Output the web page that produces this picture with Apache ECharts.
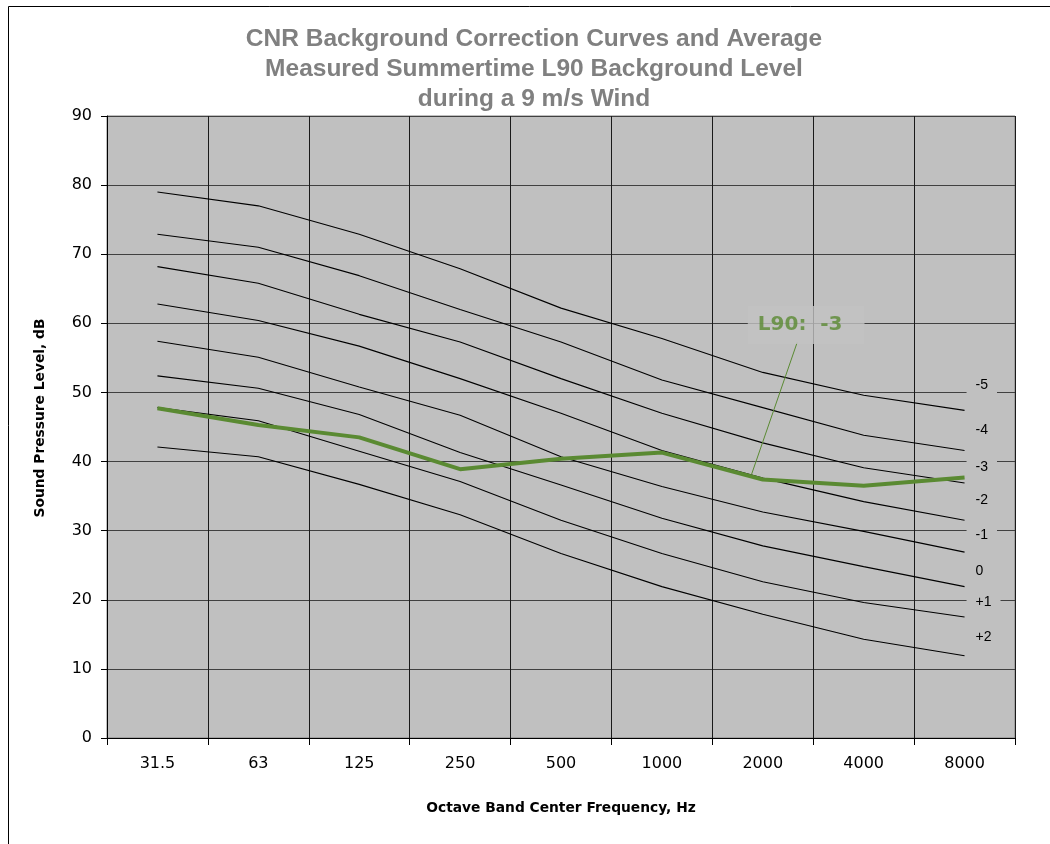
<!DOCTYPE html>
<html><head><meta charset="utf-8">
<script src="https://cdn.jsdelivr.net/npm/echarts@6/dist/echarts.min.js"></script>
<style>html,body{margin:0;padding:0;background:#fff}#c{width:1050px;height:844px}</style>
</head><body><div id="c"></div>
<script>
// ---- data ----
const categories = ['31.5', '63', '125', '250', '500', '1000', '2000', '4000', '8000'];
const curveNames = ['-5', '-4', '-3', '-2', '-1', '0', '+1', '+2'];
const curveM5 = [79.0, 77.0, 72.9, 67.9, 62.2, 57.8, 52.9, 49.6, 47.4];
const curveM4 = [72.9, 71.0, 66.9, 62.0, 57.3, 51.8, 47.8, 43.8, 41.6];
const curveM3 = [68.2, 65.8, 61.3, 57.3, 52.0, 47.0, 42.7, 39.1, 36.9];
const curveM2 = [62.8, 60.4, 56.7, 52.0, 47.0, 41.6, 37.6, 34.2, 31.5];
const curveM1 = [57.4, 55.1, 50.8, 46.7, 40.7, 36.4, 32.7, 29.9, 26.9];
const curve0  = [52.4, 50.6, 46.8, 41.3, 36.6, 31.8, 27.8, 24.8, 21.9];
const curveP1 = [47.8, 45.9, 41.5, 37.1, 31.5, 26.7, 22.6, 19.6, 17.5];
const curveP2 = [42.1, 40.7, 36.7, 32.3, 26.7, 21.9, 17.9, 14.3, 11.9];
const l90 = [47.7, 45.3, 43.5, 38.9, 40.4, 41.3, 37.4, 36.5, 37.7];
const l90Label = 'L90:  -3';
const yMin = 0, yMax = 90, yStep = 10;

// ---- styling / layout ----
const curves = [curveM5, curveM4, curveM3, curveM2, curveM1, curve0, curveP1, curveP2];
const curveLabelDy = [-25, -20, -16, -20, -17, -16, -15, -19];
const GREEN = '#5a8a32';
const FONT = "'DejaVu Sans', sans-serif";
const TITLE_FONT = "'Liberation Sans', Arial, sans-serif";

const chart = echarts.init(document.getElementById('c'));

const series = curves.map((d, i) => ({
  name: curveNames[i],
  type: 'line',
  data: d,
  symbol: 'none',
  silent: true,
  z: 2,
  lineStyle: { color: '#000', width: 1.1 },
  endLabel: {
    show: true,
    formatter: '{a}',
    color: '#000',
    fontFamily: TITLE_FONT,
    fontSize: 14,
    distance: 2,
    offset: [0, curveLabelDy[i]],
    backgroundColor: '#c0c0c0',
    padding: [4, 9, 4, 9]
  }
}));

series.push({
  name: 'L90',
  type: 'line',
  data: l90,
  symbol: 'none',
  silent: true,
  z: 3,
  lineStyle: { color: GREEN, width: 4 }
});

// annotation leader line and label (positioned on a hidden value axis)
series.push({
  type: 'line',
  xAxisIndex: 1,
  data: [[6.34, 57.2], [5.89, 38.2]],
  symbol: 'none',
  silent: true,
  z: 4,
  lineStyle: { color: GREEN, width: 1 }
});
series.push({
  type: 'scatter',
  xAxisIndex: 1,
  data: [[6.43, 59.76]],
  symbolSize: 0,
  silent: true,
  z: 5,
  label: {
    show: true,
    position: 'inside',
    formatter: l90Label,
    color: GREEN,
    fontFamily: FONT,
    fontWeight: 'bold',
    fontSize: 20,
    backgroundColor: '#c2c2c2',
    padding: [9, 22, 9, 10]
  }
});

chart.setOption({
  animation: false,
  backgroundColor: '#ffffff',
  title: {
    text: 'CNR Background Correction Curves and Average\nMeasured Summertime L90 Background Level\nduring a 9 m/s Wind',
    left: 529,
    textAlign: 'center',
    top: 19,
    textStyle: {
      color: '#808080',
      fontFamily: TITLE_FONT,
      fontWeight: 'bold',
      fontSize: 24.5,
      lineHeight: 30
    }
  },
  grid: {
    left: 107, right: 35, top: 116, bottom: 106,
    show: true,
    backgroundColor: '#c0c0c0',
    borderColor: '#808080',
    borderWidth: 1
  },
  graphic: [{
    type: 'rect',
    shape: { x: 8.5, y: 6.5, width: 1100, height: 900 },
    style: { fill: 'none', stroke: '#000', lineWidth: 1 },
    silent: true,
    z: -10
  }],
  xAxis: [{
    type: 'category',
    data: categories,
    boundaryGap: true,
    name: 'Octave Band Center Frequency, Hz',
    nameLocation: 'middle',
    nameGap: 63,
    nameTextStyle: { color: '#000', fontFamily: FONT, fontWeight: 'bold', fontSize: 13.8 },
    axisLine: { show: true, onZero: false, lineStyle: { color: '#000', width: 1 } },
    axisTick: { show: true, length: 7, lineStyle: { color: '#000' } },
    axisLabel: { color: '#000', fontFamily: FONT, fontSize: 16, margin: 18 },
    splitLine: { show: true, lineStyle: { color: '#1a1a1a', width: 1 } }
  }, {
    type: 'value',
    min: -0.5, max: 8.5,
    show: false,
    axisLine: { show: false, onZero: false },
    splitLine: { show: false }
  }],
  yAxis: {
    type: 'value',
    min: yMin, max: yMax, interval: yStep,
    name: 'Sound Pressure Level, dB',
    nameLocation: 'middle',
    nameGap: 60,
    nameTextStyle: { color: '#000', fontFamily: FONT, fontWeight: 'bold', fontSize: 13.8, padding: [0, 0, 0, 18] },
    axisLine: { show: true, onZero: false, lineStyle: { color: '#000', width: 1 } },
    axisTick: { show: true, length: 6, lineStyle: { color: '#000' } },
    axisLabel: { color: '#000', fontFamily: FONT, fontSize: 16, margin: 15 },
    splitLine: { show: true, lineStyle: { color: '#404040', width: 1 } }
  },
  series: series
});
</script>
</body></html>
